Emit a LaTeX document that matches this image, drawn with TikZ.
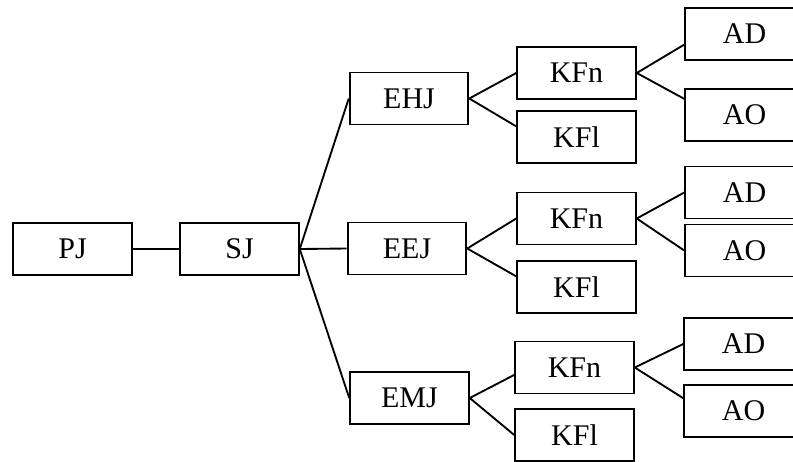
\documentclass[tikz,border=0pt]{standalone}
\usepackage{fontspec}
\setmainfont{Liberation Serif}
\usepackage{tikz}
\usetikzlibrary{positioning}

\begin{document}
\begin{tikzpicture}[
    x=0.75pt, y=-0.75pt,
    term/.style={rectangle, draw=black, line width=1.4pt, minimum width=89pt, minimum height=39pt, inner sep=0pt, align=center},
    branch/.style={line width=1.4pt},
    every node/.style={font=\fontsize{22.5}{27}\selectfont}
]
    \useasboundingbox (0,0) rectangle (793,461);
    \clip (0,0) rectangle (793,461);

    % Root and second level
    \node[term] (pj) at (72.5,249) {PJ};
    \node[term] (sj) at (239.5,249) {SJ};

    % Third level
    \node[term] (ehj) at (409,98.5) {EHJ};
    \node[term] (eej) at (407,248.5) {EEJ};
    \node[term] (emj) at (409.5,398) {EMJ};

    % Fourth level
    \node[term] (kfna) at (576.5,73) {KFn};
    \node[term] (kfla) at (576.5,137) {KFl};
    \node[term] (kfnb) at (576.5,218.5) {KFn};
    \node[term] (kflb) at (576.5,287) {KFl};
    \node[term] (kfnc) at (574.5,367.5) {KFn};
    \node[term] (kflc) at (574.5,435) {KFl};

    % Leaves
    \node[term] (ada) at (744.5,34) {AD};
    \node[term] (aoa) at (744.5,115) {AO};
    \node[term] (adb) at (744.5,192.5) {AD};
    \node[term] (aob) at (744.5,250.5) {AO};
    \node[term] (adc) at (743.5,344) {AD};
    \node[term] (aoc) at (743.5,411) {AO};

    % Connections
    \draw[branch] (pj) -- (sj);
    \draw[branch] (sj.east) -- (ehj.west);
    \draw[branch] (sj.east) -- (eej.west);
    \draw[branch] (sj.east) -- (emj.west);

    \draw[branch] (ehj.east) -- (kfna.west);
    \draw[branch] (ehj.east) -- (kfla.170);
    \draw[branch] (eej.east) -- (kfnb.west);
    \draw[branch] (eej.east) -- (kflb.170);
    \draw[branch] (emj.east) -- (kfnc.187);
    \draw[branch] (emj.east) -- (kflc.west);

    \draw[branch] (kfna.east) -- (ada.190);
    \draw[branch] (kfna.east) -- (aoa.165);
    \draw[branch] (kfnb.east) -- (adb.west);
    \draw[branch] (kfnb.east) -- (aob.west);
    \draw[branch] (kfnc.east) -- (adc.west);
    \draw[branch] (kfnc.east) -- (aoc.168);

\end{tikzpicture}
\end{document}
